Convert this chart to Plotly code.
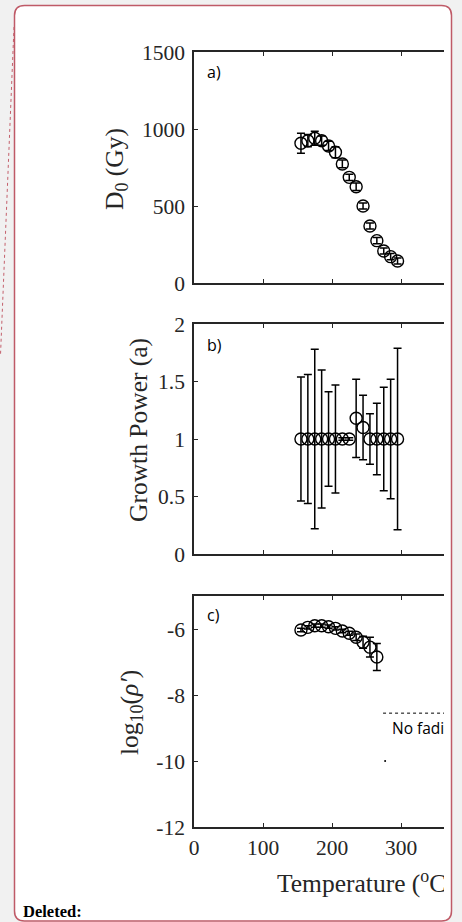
import plotly.graph_objects as go

# ---------------- data ----------------
temp_a = [155, 165, 175, 185, 195, 205, 215, 225, 235, 245, 255, 265, 275, 285, 295]
d0 = [907, 924, 940, 924, 890, 849, 773, 686, 625, 500, 370, 275, 208, 171, 143]
d0_err = [65, 40, 45, 30, 30, 35, 25, 20, 25, 20, 20, 20, 20, 20, 20]

temp_b = [155, 165, 175, 185, 195, 205, 215, 225, 235, 245, 255, 265, 275, 285, 295]
growth = [1, 1, 1, 1, 1, 1, 1, 1, 1.18, 1.1, 1, 1, 1, 1, 1]
growth_err = [0.54, 0.56, 0.78, 0.6, 0.41, 0.47, 0.01, 0.01, 0.34, 0.28, 0.22, 0.31, 0.45, 0.52, 0.79]

temp_c = [155, 165, 175, 185, 195, 205, 215, 225, 235, 245, 255, 265]
log_rho = [-6.03, -5.95, -5.9, -5.9, -5.93, -5.98, -6.06, -6.13, -6.25, -6.4, -6.55, -6.85]
log_rho_err = [0.05, 0.05, 0.05, 0.05, 0.05, 0.05, 0.05, 0.06, 0.1, 0.18, 0.3, 0.41]

nofade_x = [274, 370]
nofade_y = [-8.55, -8.55]
dot_x = [277]
dot_y = [-10]

x_ticks = [0, 100, 200, 300]
ya_ticks = [0, 500, 1000, 1500]
yb_ticks = [0, 0.5, 1, 1.5, 2]
yb_text = ["0", "0.5", "1", "1.5", "2"]
yc_ticks = [-12, -10, -8, -6]
yc_text = ["-12", "-10", "-8", "-6"]

# ---------------- geometry ----------------
W, H = 462, 922
def px(x):
    return x / W
def py(y):
    return 1 - y / H

XDOM = [px(194), px(444)]
XR = [0, (444 - 194) / 0.69]

INK = "#262626"
SERIF = "Liberation Serif, Times New Roman, serif"
SANS = "Open Sans, Noto Sans, sans-serif"

fig = go.Figure()

def circ_trace(x, y, err, xa, ya):
    return go.Scatter(
        x=x, y=y, xaxis=xa, yaxis=ya, mode="markers",
        marker=dict(symbol="circle-open", size=12, color="black", line=dict(width=1.4, color="black")),
        error_y=dict(type="data", array=err, visible=True, color="black", thickness=1.5, width=4),
        showlegend=False, hoverinfo="x+y",
    )

fig.add_trace(circ_trace(temp_a, d0, d0_err, "x", "y"))
fig.add_trace(circ_trace(temp_b, growth, growth_err, "x2", "y2"))
fig.add_trace(circ_trace(temp_c, log_rho, log_rho_err, "x3", "y3"))

# no fading line + label (clipped at the plot edge)
fig.add_trace(go.Scatter(x=nofade_x, y=nofade_y, xaxis="x3", yaxis="y3", mode="lines",
                         line=dict(color="black", width=1, dash="dot"), showlegend=False,
                         hoverinfo="skip", cliponaxis=True))
fig.add_trace(go.Scatter(x=[287], y=[-9.06], xaxis="x3", yaxis="y3", mode="text",
                         text=["No fading"], textposition="middle right",
                         textfont=dict(family=SANS, size=15.5, color="black"),
                         showlegend=False, hoverinfo="skip", cliponaxis=True))
fig.add_trace(go.Scatter(x=dot_x, y=dot_y, xaxis="x3", yaxis="y3", mode="markers",
                         marker=dict(size=2, color="black"), showlegend=False, hoverinfo="skip"))

# x-axis title as clipped text on an invisible helper subplot
fig.add_trace(go.Scatter(x=[(277 - 194) / 0.69], y=[0], xaxis="x4", yaxis="y4", mode="text",
                         text=["Temperature (<sup>o</sup>C)"], textposition="middle right",
                         textfont=dict(family=SERIF, size=25.5, color=INK),
                         showlegend=False, hoverinfo="skip", cliponaxis=True))

axis_common = dict(showline=True, linecolor=INK, linewidth=1.5, ticks="inside", ticklen=4,
                   tickwidth=1, tickcolor=INK, showgrid=False, zeroline=False, automargin=False,
                   tickfont=dict(family=SERIF, size=21.5, color=INK))

def xaxis(anchor, labels):
    d = dict(axis_common, domain=XDOM, range=XR, anchor=anchor, tickvals=x_ticks,
             mirror="ticks", showticklabels=labels)
    return d

def yaxis(**kw):
    return dict(axis_common, ticklabelstandoff=3, **kw)

fig.update_layout(
    width=W, height=H, margin=dict(l=0, r=0, t=0, b=0, autoexpand=False),
    paper_bgcolor="#f1f1f1", plot_bgcolor="rgba(0,0,0,0)",
    xaxis=xaxis("y", False),
    xaxis2=xaxis("y2", False),
    xaxis3=dict(xaxis("y3", True), ticktext=[str(v) for v in x_ticks]),
    yaxis=yaxis(domain=[py(283), py(52)], range=[0, 1500], anchor="x", tickvals=ya_ticks),
    yaxis2=yaxis(domain=[py(554), py(324)], range=[0, 2], anchor="x2",
                 tickvals=yb_ticks, ticktext=yb_text),
    yaxis3=yaxis(domain=[py(827), py(596)], range=[-12, -5], anchor="x3",
                 tickvals=yc_ticks, ticktext=yc_text),
    xaxis4=dict(domain=XDOM, range=XR, anchor="y4", visible=False, automargin=False),
    yaxis4=dict(domain=[py(906), py(866)], range=[-1, 1], anchor="x4", visible=False, automargin=False),
)

# page frame
r = 10
x0, y0, x1, y1 = 14.5, 5.5, 451.5, 921.0
def P(x, y):
    return f"{px(x):.5f},{py(y):.5f}"
path = (f"M {P(x0 + r, y0)} L {P(x1 - r, y0)} Q {P(x1, y0)} {P(x1, y0 + r)} "
        f"L {P(x1, y1 - r)} Q {P(x1, y1)} {P(x1 - r, y1)} L {P(x0 + r, y1)} "
        f"Q {P(x0, y1)} {P(x0, y1 - r)} L {P(x0, y0 + r)} Q {P(x0, y0)} {P(x0 + r, y0)} Z")
fig.add_shape(type="path", xref="paper", yref="paper", path=path, fillcolor="white",
              line=dict(color="#bf5a67", width=1.5), layer="below")
fig.add_shape(type="line", xref="paper", yref="paper", x0=px(14), y0=py(27), x1=px(0.5), y1=py(355),
              line=dict(color="#c4606c", width=1, dash="dot"), layer="below")

# annotations: axis titles, panel labels, footer
ann = [
    dict(text="D<sub>0</sub> (Gy)", x=px(116), y=py(169), textangle=-90,
         font=dict(family=SERIF, size=25.5, color=INK)),
    dict(text="Growth Power (a)", x=px(139), y=py(430), textangle=-90,
         font=dict(family=SERIF, size=25.5, color=INK)),
    dict(text="log<sub>10</sub>(<i>ρ′</i>)", x=px(131), y=py(713), textangle=-90,
         font=dict(family=SERIF, size=25.5, color=INK)),
    dict(text="a)", x=px(205), y=py(72), xanchor="left",
         font=dict(family=SANS, size=16, color="black")),
    dict(text="b)", x=px(205), y=py(345), xanchor="left",
         font=dict(family=SANS, size=16, color="black")),
    dict(text="c)", x=px(205), y=py(615), xanchor="left",
         font=dict(family=SANS, size=16, color="black")),
    dict(text="<b>Deleted:</b>", x=px(21), y=py(911), xanchor="left",
         font=dict(family=SERIF, size=16.5, color="black")),
]
for a in ann:
    a.setdefault("xanchor", "center")
    fig.add_annotation(xref="paper", yref="paper", showarrow=False, yanchor="middle", **a)

fig.write_html("out.html")
